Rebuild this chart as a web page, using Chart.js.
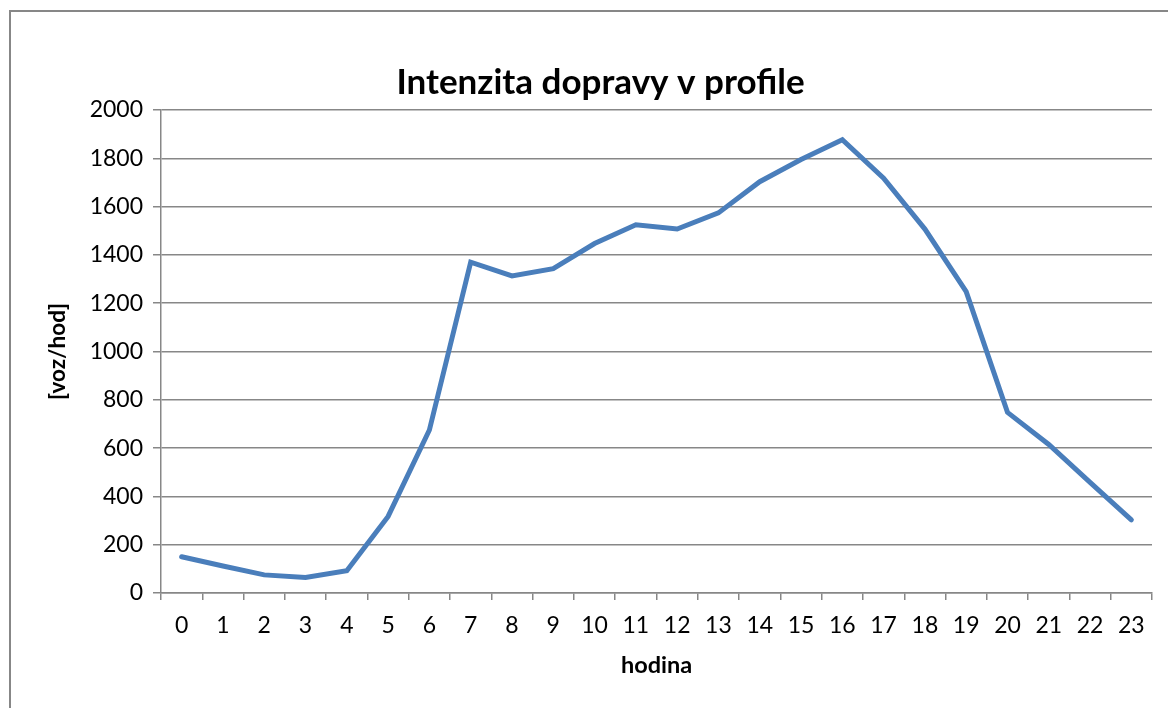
<!DOCTYPE html>
<html>
<head>
<meta charset="utf-8">
<script src="https://cdn.jsdelivr.net/npm/chart.js@4"></script>
<style>
  html, body { margin: 0; padding: 0; background: #fff; }
  #wrap { position: relative; width: 1168px; height: 708px; }
</style>
</head>
<body>
<div id="wrap"><canvas id="intenzita" width="1168" height="708"></canvas></div>
<script>
const hodiny = ['0', '1', '2', '3', '4', '5', '6', '7', '8', '9', '10', '11',
  '12', '13', '14', '15', '16', '17', '18', '19', '20', '21', '22', '23'];
const intenzita = [150, 112, 75, 64, 92, 317, 675, 1370, 1313, 1343, 1447, 1525,
  1507, 1574, 1703, 1795, 1877, 1718, 1507, 1248, 748, 615, 458, 303];

const seda = '#878787';
const pismo = 'Lato, "Open Sans", sans-serif';

// ramecek kolem celeho grafu (jako v Excelu)
const ramecek = {
  id: 'ramecek',
  beforeDraw(chart) {
    const ctx = chart.ctx;
    ctx.save();
    ctx.fillStyle = '#fff';
    ctx.fillRect(0, 0, chart.width, chart.height);
    ctx.strokeStyle = seda;
    ctx.lineWidth = 2;
    ctx.strokeRect(10, 11, chart.width + 20, chart.height + 20);
    ctx.restore();
  },
};

const data = {
  labels: hodiny,
  datasets: [{
    label: 'Intenzita',
    data: intenzita,
    borderColor: '#4a7ebb',
    backgroundColor: '#4a7ebb',
    borderWidth: 5,
    borderCapStyle: 'round',
    pointRadius: 0,
    tension: 0,
  }],
};

const options = {
  responsive: false,
  animation: false,
  // vlevo 49 + osa y 112 = zacatek plochy na 161, titulek pak sedi na stredu
  layout: { padding: { top: 0, left: 49, right: 16, bottom: 0 } },
  plugins: {
    legend: { display: false },
    tooltip: { enabled: false },
    title: {
      display: true,
      text: 'Intenzita dopravy v profile',
      color: '#000',
      font: { family: pismo, size: 35, weight: 'bold', lineHeight: 1.2 },
      padding: { top: 61.5, bottom: 6.5 },
    },
  },
  scales: {
    x: {
      offset: true,
      grid: {
        offset: true,
        drawOnChartArea: false,
        color: seda,
        lineWidth: 1.5,
        tickLength: 7,
      },
      border: { color: seda, width: 1.5 },
      ticks: {
        color: '#000',
        font: { family: pismo, size: 23 },
        padding: 12,
        maxRotation: 0,
        autoSkip: false,
      },
      title: {
        display: true,
        text: 'hodina',
        color: '#000',
        font: { family: pismo, size: 23.5, weight: 'bold', lineHeight: 1.2 },
        padding: { top: 0, bottom: 28 },
      },
      afterFit(scale) { scale.height = 115; },
    },
    y: {
      min: 0,
      max: 2000,
      grid: {
        color: seda,
        lineWidth: 1.5,
        tickLength: 8,
      },
      border: { color: seda, width: 1.5 },
      ticks: {
        stepSize: 200,
        color: '#000',
        font: { family: pismo, size: 23 },
        padding: 10,
        callback: (v) => String(v),
      },
      title: {
        display: true,
        text: '[voz/hod]',
        color: '#000',
        font: { family: pismo, size: 22.5, weight: 'bold', lineHeight: 0.8 },
        padding: { top: 0, bottom: 0 },
      },
      afterFit(scale) { scale.width = 112; },
    },
  },
};

/* eslint-disable no-new */
new Chart(document.getElementById('intenzita'), { type: 'line', data, options, plugins: [ramecek] });
/* eslint-enable no-new */
</script>
</body>
</html>
